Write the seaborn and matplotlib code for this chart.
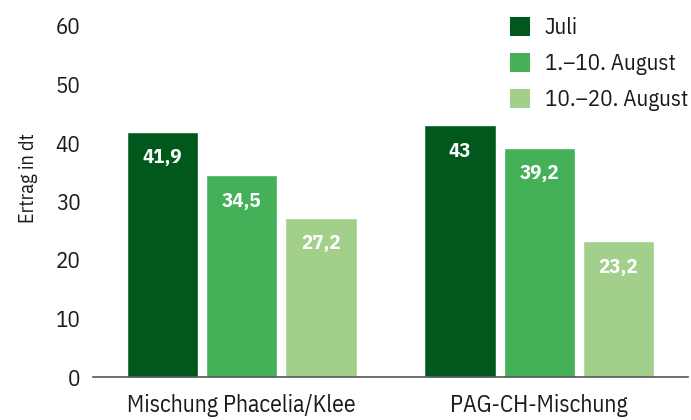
import matplotlib
matplotlib.use("Agg")
import matplotlib.pyplot as plt
import seaborn as sns
import pandas as pd
from matplotlib.patches import Patch

categories = ["Mischung Phacelia/Klee", "PAG-CH-Mischung"]
series_names = ["Juli", "1.–10. August", "10.–20. August"]
juli = [41.9, 43.0]
aug1 = [34.5, 39.2]
aug2 = [27.2, 23.2]
value_labels = [["41,9", "43"], ["34,5", "39,2"], ["27,2", "23,2"]]
colors = ["#01581c", "#44b058", "#a2cf8a"]

rows = []
for name, vals in zip(series_names, [juli, aug1, aug2]):
    for c, v in zip(categories, vals):
        rows.append({"Kategorie": c, "Zeitraum": name, "Ertrag": v})
df = pd.DataFrame(rows)

sns.set_theme(style="white")
plt.rcParams["font.family"] = ["IBM Plex Sans Condensed", "DejaVu Sans"]
plt.rcParams["text.color"] = "#1a1a1a"

fig = plt.figure(figsize=(6.91, 4.2), dpi=100)
ax = fig.add_axes([93/691, 1-377/420, (688-93)/691, (377-26)/420])

sns.barplot(data=df, x="Kategorie", y="Ertrag", hue="Zeitraum",
            palette=colors, width=0.8, gap=0.1, ax=ax, saturation=1,
            legend=False)

ax.set_xlim(-0.5, 1.5)
ax.set_ylim(0, 60)
ax.set_yticks(range(0, 61, 10))
ax.tick_params(axis="y", labelsize=16.5, length=0, pad=9, labelcolor="#1a1a1a")
ax.tick_params(axis="x", labelsize=17, length=0, pad=12, labelcolor="#1a1a1a")
ax.set_xlabel("")
ax.set_ylabel("Ertrag in dt", fontsize=14.5, color="#1a1a1a")
ax.yaxis.set_label_coords(-0.093, 0.567)
for s in ["top", "right", "left"]:
    ax.spines[s].set_visible(False)
ax.spines["bottom"].set_color("#555555")
ax.spines["bottom"].set_linewidth(1.2)

for cont, labs in zip(ax.containers, value_labels):
    for bar, lab in zip(cont, labs):
        ax.annotate(lab, (bar.get_x() + bar.get_width()/2, bar.get_height()),
                    xytext=(0, -26), textcoords="offset pixels",
                    ha="center", va="center", color="white",
                    fontsize=15, fontweight="bold")

handles = [Patch(facecolor=c, edgecolor="none") for c in colors]
fig.legend(handles, series_names, loc="upper left",
           bbox_to_anchor=(501/691, 1-8/420), frameon=False,
           fontsize=16.5, handlelength=0.87, handleheight=0.87,
           labelspacing=0.6, handletextpad=0.65, borderaxespad=0)

fig.savefig("out.png", dpi=100, facecolor="white")
